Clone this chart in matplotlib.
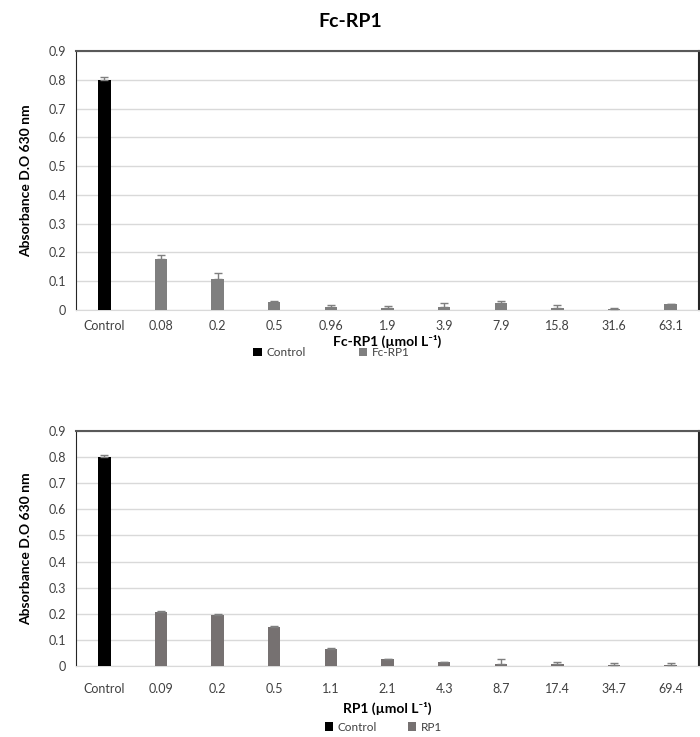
import matplotlib
matplotlib.use('Agg')
import matplotlib.pyplot as plt
import numpy as np

plt.rcParams['font.family'] = ['Lato', 'DejaVu Sans']

# top panel: Fc-RP1
fc_labels = ['Control', '0.08', '0.2', '0.5', '0.96', '1.9', '3.9', '7.9', '15.8', '31.6', '63.1']
fc_values = [0.800, 0.176, 0.106, 0.027, 0.012, 0.008, 0.009, 0.024, 0.008, 0.002, 0.021]
fc_errors = [0.009, 0.014, 0.021, 0.005, 0.005, 0.006, 0.015, 0.007, 0.008, 0.005, 0.000]

# bottom panel: RP1
rp_labels = ['Control', '0.09', '0.2', '0.5', '1.1', '2.1', '4.3', '8.7', '17.4', '34.7', '69.4']
rp_values = [0.800, 0.205, 0.196, 0.148, 0.065, 0.026, 0.014, 0.009, 0.009, 0.003, 0.003]
rp_errors = [0.009, 0.005, 0.004, 0.006, 0.005, 0.002, 0.001, 0.017, 0.006, 0.009, 0.009]

fig = plt.figure(figsize=(7, 7.37), dpi=100)
ax1 = fig.add_axes([0.1086, 0.5794, 0.89, 0.3514])
ax2 = fig.add_axes([0.1086, 0.0963, 0.89, 0.3189])


def panel(ax, labels, values, errors, gray, name, xlabel, legend_xy, colspace, xpad, lpad):
    x = np.arange(len(labels))
    w = 0.22
    vals = np.array(values)
    errs = np.array(errors)
    ctrl = ax.bar(x[:1], vals[:1], w, color='black', zorder=3,
                  yerr=[[0], errs[:1]], ecolor='#7f7f7f', capsize=3,
                  error_kw={'elinewidth': 1, 'capthick': 1})
    rest = ax.bar(x[1:], vals[1:], w, color=gray, zorder=3,
                  yerr=[np.zeros(len(x) - 1), errs[1:]], ecolor='#7f7f7f', capsize=3,
                  error_kw={'elinewidth': 1, 'capthick': 1})
    ax.set_xlim(-0.5, len(labels) - 0.5)
    ax.set_ylim(0, 0.9)
    ax.set_yticks(np.arange(0, 0.91, 0.1))
    ax.set_yticklabels(['0'] + ['%.1f' % v for v in np.arange(0.1, 0.91, 0.1)])
    ax.set_xticks(x)
    ax.set_xticklabels(labels)
    ax.tick_params(axis='both', length=0, labelsize=9, colors='#404040', pad=7)
    ax.tick_params(axis='x', pad=xpad)
    ax.yaxis.grid(True, color='#d9d9d9', linewidth=1, zorder=0)
    ax.spines['left'].set_color('#262626')
    ax.spines['top'].set_color('#595959')
    ax.spines['right'].set_color('#262626')
    ax.spines['bottom'].set_color('#d9d9d9')
    ax.spines['top'].set_linewidth(1.5)
    ax.spines['right'].set_linewidth(1.5)
    ax.set_xlabel(xlabel, fontsize=10, fontweight='bold', labelpad=lpad)
    ax.set_ylabel('Absorbance D.O 630 nm', fontsize=10, fontweight='bold', labelpad=12)
    ax.legend([ctrl, rest], ['Control', name], loc='center', ncol=2, frameon=False,
              bbox_to_anchor=legend_xy, fontsize=8.5, handlelength=0.7,
              handleheight=0.7, handletextpad=0.4, columnspacing=colspace,
              labelcolor='#404040')


panel(ax1, fc_labels, fc_values, fc_errors, '#7f7f7f', 'Fc-RP1', 'Fc-RP1 (µmol L⁻¹)',
      (0.41, -0.165), 4.5, 7, 2)
panel(ax2, rp_labels, rp_values, rp_errors, '#767171', 'RP1', 'RP1 (µmol L⁻¹)',
      (0.493, -0.26), 2.6, 12, 5)

fig.text(0.5, 0.983, 'Fc-RP1', ha='center', va='top', fontsize=14, fontweight='bold')

fig.savefig('out.png', dpi=100)
